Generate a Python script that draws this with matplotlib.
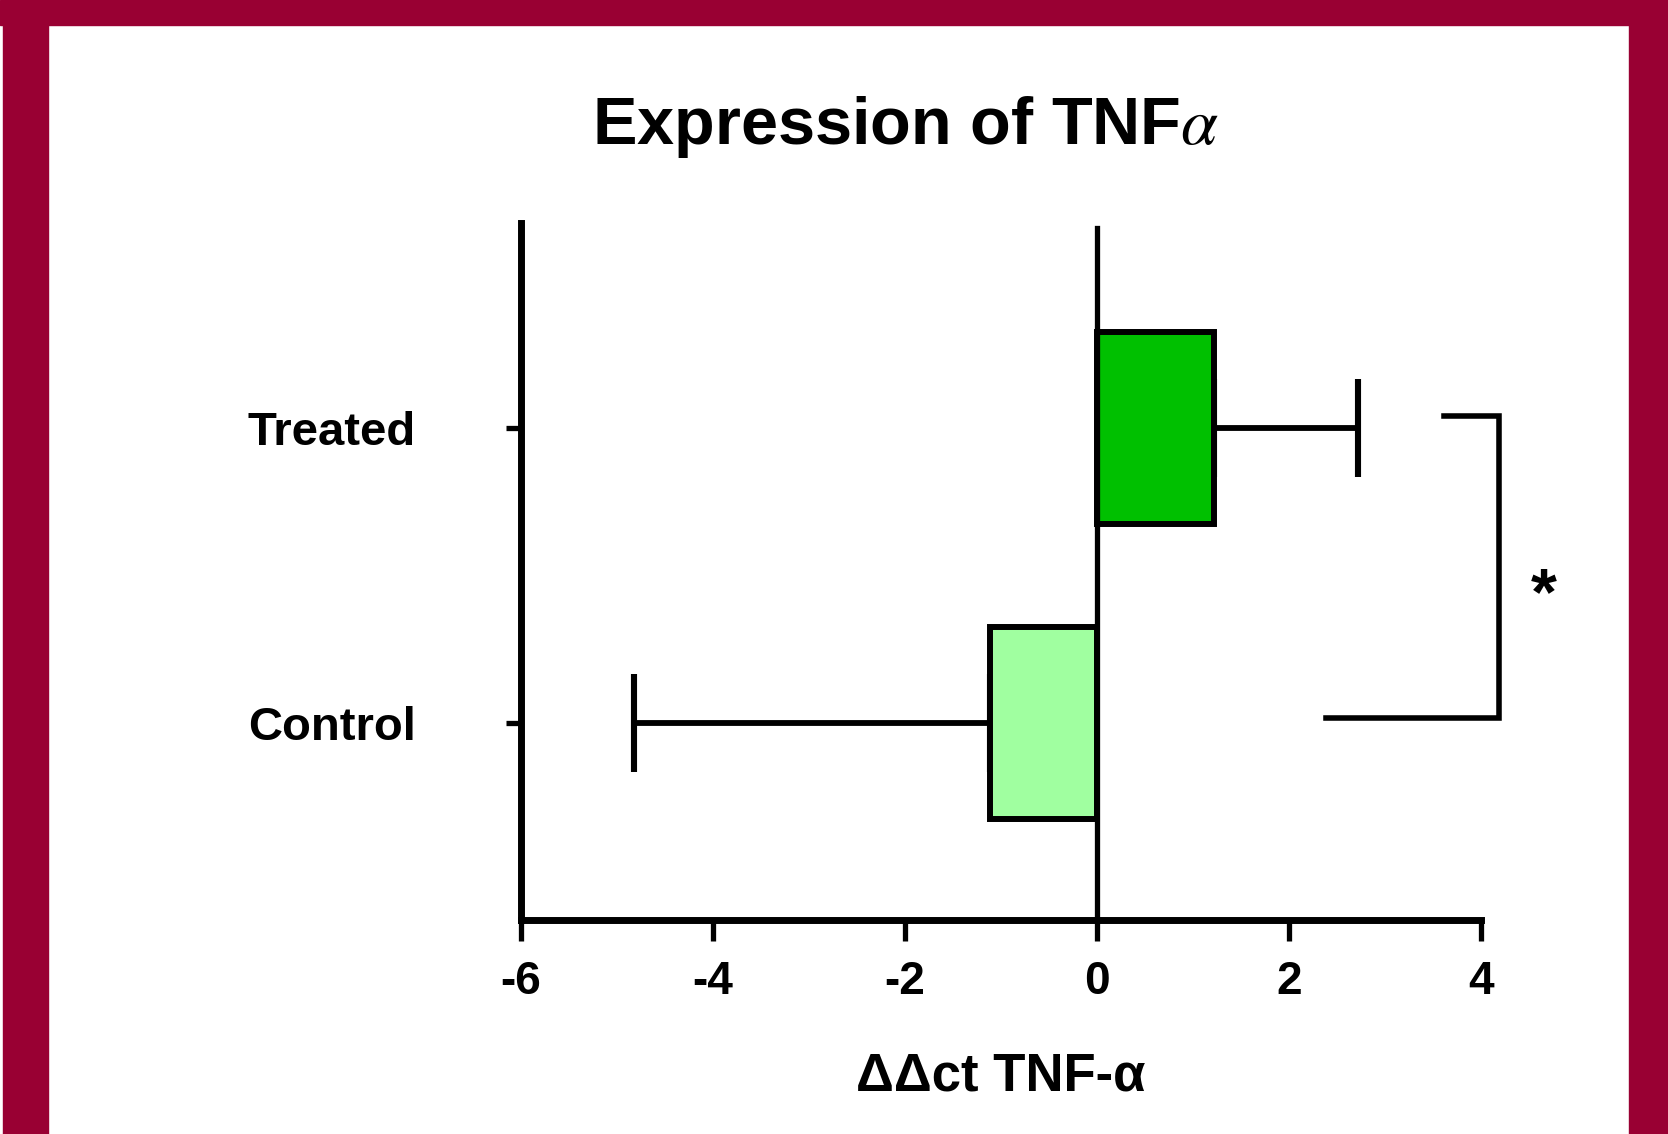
import matplotlib
matplotlib.use("Agg")
import matplotlib.pyplot as plt
from matplotlib.patches import Rectangle

plt.rcParams['font.family'] = ['Liberation Sans', 'DejaVu Sans']
plt.rcParams['mathtext.fontset'] = 'stix'

# data
groups = ["Control", "Treated"]
means = [-1.11, 1.22]
err_low = [3.71, 0.0]
err_high = [0.0, 1.50]
bar_colors = ["#A0FFA0", "#00C000"]
xticks = [-6, -4, -2, 0, 2, 4]

# significance bracket (data units)
bracket_x = [3.61, 4.19, 4.19, 2.38]
bracket_y = [1.04, 1.04, 0.016, 0.016]
star_pos = (4.65, 0.425)

maroon = "#990033"

fig = plt.figure(figsize=(16.68, 11.34), dpi=100)
fig.patch.set_facecolor("white")

# maroon frame
fig.patches.append(Rectangle((0, 0.978), 1, 0.022, transform=fig.transFigure,
                             color=maroon, zorder=0))
fig.patches.append(Rectangle((0.0018, 0), 0.027, 1, transform=fig.transFigure,
                             color=maroon, zorder=0))
fig.patches.append(Rectangle((0.9766, 0), 0.0234, 1, transform=fig.transFigure,
                             color=maroon, zorder=0))

ax = fig.add_axes([0.3124, 0.1887, 0.5755, 0.6147])
ypos = list(range(len(groups)))

ax.errorbar(means, ypos, xerr=[err_low, err_high], fmt="none", ecolor="black",
            elinewidth=4.2, capsize=35, capthick=4.4, zorder=1)
ax.barh(ypos, means, height=0.65, color=bar_colors, edgecolor="black",
        linewidth=4.3, zorder=2)
ax.axvline(0, ymax=0.993, color="black", linewidth=3.8, zorder=3)

ax.plot(bracket_x, bracket_y, color="black", linewidth=4, clip_on=False,
        solid_joinstyle="miter")
ax.text(star_pos[0], star_pos[1], "*", fontsize=48, fontweight="bold",
        ha="center", va="center")

ax.set_xlim(-6, 4)
ax.set_ylim(-0.668, 1.695)
ax.set_xticks(xticks)
ax.set_xticklabels([str(t) for t in xticks])
ax.set_yticks(ypos)
ax.set_yticklabels(groups)

for s in ["top", "right"]:
    ax.spines[s].set_visible(False)
for s in ["left", "bottom"]:
    ax.spines[s].set_linewidth(5)

ax.tick_params(axis="x", direction="out", length=15, width=3.8, pad=14,
               labelsize=33)
ax.tick_params(axis="y", direction="out", length=11, width=3.8, pad=65,
               labelsize=34)
for lab in ax.get_xticklabels() + ax.get_yticklabels():
    lab.set_fontweight("bold")

ax.set_xlabel("ΔΔct TNF-α", fontsize=38, fontweight="bold", labelpad=34)

fig.text(0.543, 0.873, r"Expression of TNF$\alpha$", fontsize=48,
         fontweight="bold", ha="center", va="baseline")

fig.savefig("out.png", dpi=100)
